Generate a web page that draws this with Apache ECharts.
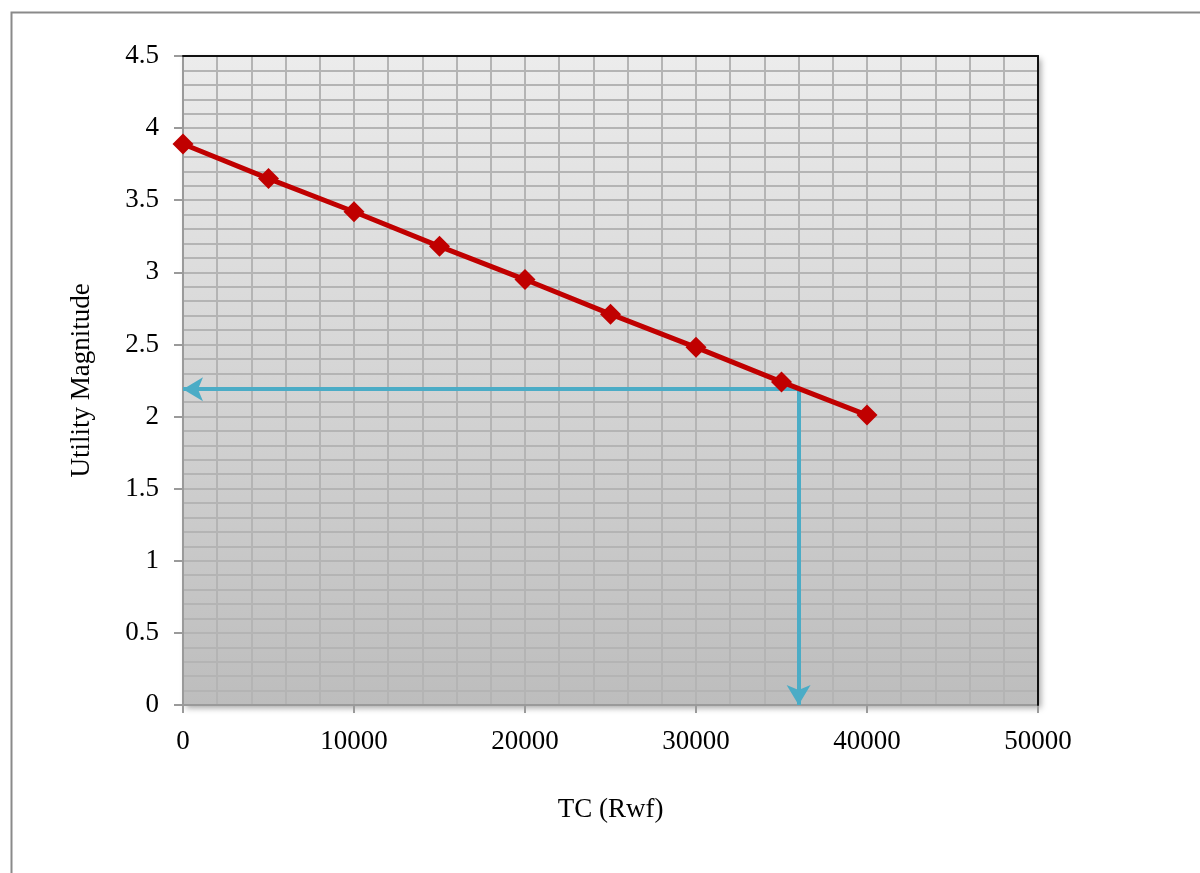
<!DOCTYPE html>
<html>
<head>
<meta charset="utf-8">
<script src="https://cdn.jsdelivr.net/npm/echarts@6/dist/echarts.min.js"></script>
<style>html,body{margin:0;padding:0;background:#fff}#c{width:1200px;height:873px}</style>
</head>
<body>
<div id="c"></div>
<script>
const tcValues = [0, 5000, 10000, 15000, 20000, 25000, 30000, 35000, 40000];
const utilityValues = [3.89, 3.65, 3.42, 3.18, 2.95, 2.71, 2.48, 2.24, 2.01];
const readTC = 36000;
const readUtility = 2.19;
const xAxisTitle = 'TC (Rwf)';
const yAxisTitle = 'Utility Magnitude';

const chart = echarts.init(document.getElementById('c'));
const serif = '"Liberation Serif", "DejaVu Serif", serif';
const gridLine = { show: true, lineStyle: { color: '#b4b4b4', width: 2 } };
const frameAxis = {
  type: 'value', min: 0, axisLine: { show: true, onZero: false, lineStyle: { color: '#111', width: 2 } },
  axisTick: { show: false }, axisLabel: { show: false }, splitLine: { show: false }, z: 10
};

chart.setOption({
  animation: false,
  backgroundColor: '#fff',
  graphic: [{
    type: 'rect', left: 9, top: 10, z: -10,
    shape: { width: 1250, height: 900 },
    style: { fill: 'none', stroke: '#8a8a8a', lineWidth: 2 }
  }],
  grid: {
    left: 183, right: 162, top: 56, bottom: 168,
    show: true,
    borderWidth: 0,
    backgroundColor: new echarts.graphic.LinearGradient(0, 0, 0, 1, [
      { offset: 0, color: '#ececec' }, { offset: 1, color: '#bdbdbd' }
    ]),
    shadowColor: 'rgba(0,0,0,0.35)', shadowBlur: 6, shadowOffsetX: 3, shadowOffsetY: 3
  },
  xAxis: [{
    type: 'value', min: 0, max: 50000, interval: 10000,
    name: xAxisTitle, nameLocation: 'middle', nameGap: 91,
    nameTextStyle: { fontFamily: serif, fontSize: 27, color: '#000' },
    axisLine: { show: true, lineStyle: { color: '#9a9a9a', width: 2 } },
    axisTick: { show: true, inside: false, length: 8, lineStyle: { color: '#9a9a9a', width: 2 } },
    axisLabel: { fontFamily: serif, fontSize: 27, color: '#000', margin: 23, formatter: v => String(v) },
    splitLine: gridLine,
    minorTick: { show: false, splitNumber: 5 },
    minorSplitLine: gridLine,
    z: 3
  }, Object.assign({}, frameAxis, { position: 'top', max: 50000 })],
  yAxis: [{
    type: 'value', min: 0, max: 4.5, interval: 0.5,
    name: yAxisTitle, nameLocation: 'middle', nameGap: 88, nameRotate: 90,
    nameTextStyle: { fontFamily: serif, fontSize: 27, color: '#000' },
    axisLine: { show: true, lineStyle: { color: '#9a9a9a', width: 2 } },
    axisTick: { show: true, inside: false, length: 9, lineStyle: { color: '#9a9a9a', width: 2 } },
    axisLabel: { fontFamily: serif, fontSize: 27, color: '#000', margin: 24, formatter: v => String(v) },
    splitLine: gridLine,
    minorTick: { show: false, splitNumber: 5 },
    minorSplitLine: gridLine,
    z: 3
  }, Object.assign({}, frameAxis, { position: 'right', max: 4.5 })],
  series: [{
    type: 'line',
    data: tcValues.map((x, i) => [x, utilityValues[i]]),
    lineStyle: { color: '#c00000', width: 5 },
    itemStyle: { color: '#c00000' },
    symbol: 'diamond', symbolSize: 21,
    z: 5,
    markLine: {
      silent: true, animation: false,
      symbol: ['none', 'arrow'], symbolSize: [18, 20],
      label: { show: false },
      lineStyle: { color: '#4bacc6', width: 4, type: 'solid' },
      data: [
        [{ coord: [readTC, readUtility] }, { coord: [0, readUtility] }],
        [{ coord: [readTC, readUtility] }, { coord: [readTC, 0] }]
      ]
    }
  }]
});
</script>
</body>
</html>
